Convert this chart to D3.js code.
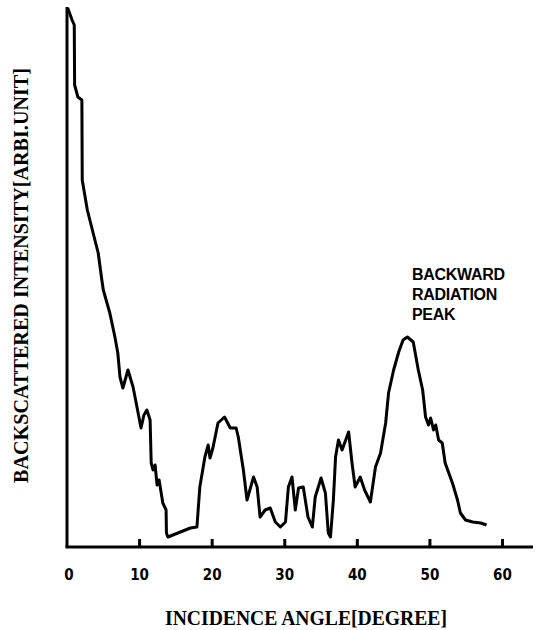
<!DOCTYPE html>
<html>
<head>
<meta charset="utf-8">
<script src="https://cdn.jsdelivr.net/npm/d3@7"></script>
<style>
  body { margin: 0; background: #fff; }
  svg { display: block; }
</style>
</head>
<body>
<div id="chart"></div>
<script>
// incidence angle (degree)
const angle = [
  0.1, 0.4, 0.7, 1.0, 1.05, 1.5, 2.05, 2.1, 2.8, 3.6, 4.3, 4.8, 5.0, 5.9, 6.6, 7.0,
  7.3, 7.7, 8.4, 9.1, 9.8, 10.2, 10.6, 11.0, 11.45, 11.6, 11.86, 12.14, 12.41, 12.69, 13.2, 13.65, 13.7, 13.9,
  17.0, 17.9, 18.3, 19.0, 19.45, 19.7, 20.1, 20.8, 21.7, 22.5, 23.3, 23.6, 24.3, 24.8,
  25.7, 26.2, 26.6, 27.3, 28.0, 28.7, 29.4, 30.1, 30.5, 31.0, 31.45, 31.9, 32.55, 33.2,
  33.8, 34.2, 35.0, 35.6, 36.0, 36.3, 36.7, 37.0, 37.4, 37.9, 38.8, 39.3, 39.7, 40.4,
  41.0, 41.8, 42.5, 43.2, 43.9, 44.3, 45.0, 45.7, 46.3, 46.9, 47.7, 48.4, 49.0, 49.4,
  49.8, 50.1, 50.5, 50.8, 51.2, 51.7, 52.1, 53.1, 53.8, 54.2, 54.9, 55.9, 57.0, 57.8
];
// backscattered intensity (arb. unit)
const intensity = [
  539, 533, 527, 522, 462, 450, 447, 367, 337, 314, 294, 267, 257, 234, 210, 194,
  170, 159, 177, 160, 134, 119, 132, 137, 127, 84, 77, 82, 62, 67, 44, 37, 14, 10,
  19, 20, 60, 90, 102, 89, 99, 124, 130, 119, 119, 110, 77, 47,
  70, 60, 30, 37, 39, 25, 20, 25, 60, 70, 37, 59, 60, 30,
  20, 50, 69, 54, 14, 10, 47, 90, 107, 97, 115, 82, 60, 70,
  57, 45, 80, 94, 124, 154, 177, 195, 207, 210, 205, 177, 157, 130,
  122, 129, 117, 122, 107, 104, 84, 64, 47, 34, 27, 25, 24, 22
];
const xTicks = [10, 20, 30, 40, 50, 60];
const xTickLabels = ["10", "20", "30", "40", "50", "60"];
const noteLines = ["BACKWARD", "RADIATION", "PEAK"];

const width = 537, height = 630;

const x = d3.scaleLinear().domain([0, 60]).range([67, 502.5]);
const y = d3.scaleLinear().domain([0, 540]).range([547, 7]);

const svg = d3.select("#chart").append("svg")
  .attr("width", width)
  .attr("height", height);

// axes
svg.append("line")
  .attr("x1", x(0)).attr("x2", x(0))
  .attr("y1", y(540)).attr("y2", y(0))
  .attr("stroke", "#000").attr("stroke-width", 3);

svg.append("line")
  .attr("x1", x(0) - 1.5).attr("x2", x(64.2))
  .attr("y1", y(0)).attr("y2", y(0))
  .attr("stroke", "#000").attr("stroke-width", 3);

svg.selectAll(".tick")
  .data(xTicks)
  .enter().append("line")
  .attr("class", "tick")
  .attr("x1", d => x(d)).attr("x2", d => x(d))
  .attr("y1", y(0)).attr("y2", y(0) - 8)
  .attr("stroke", "#000").attr("stroke-width", 3);

const tickFont = "'DejaVu Sans Condensed', 'DejaVu Sans', sans-serif";
svg.selectAll(".tlabel")
  .data([0].concat(xTicks))
  .enter().append("text")
  .attr("class", "tlabel")
  .attr("x", d => x(d) + (d === 0 ? 2 : 0))
  .attr("y", 580)
  .attr("text-anchor", "middle")
  .attr("font-family", tickFont)
  .attr("font-weight", "bold")
  .attr("font-size", 15)
  .text((d, i) => i === 0 ? "0" : xTickLabels[i - 1]);

// axis titles
svg.append("text")
  .attr("x", 165).attr("y", 625)
  .attr("font-family", "'Liberation Serif', 'DejaVu Serif', serif")
  .attr("font-weight", "bold")
  .attr("font-size", 21)
  .attr("textLength", 282)
  .attr("lengthAdjust", "spacingAndGlyphs")
  .text("INCIDENCE ANGLE[DEGREE]");

svg.append("text")
  .attr("transform", "translate(28,483) rotate(-90)")
  .attr("font-family", "'Liberation Serif', 'DejaVu Serif', serif")
  .attr("font-weight", "bold")
  .attr("font-size", 21)
  .attr("textLength", 415)
  .attr("lengthAdjust", "spacingAndGlyphs")
  .text("BACKSCATTERED INTENSITY[ARBI.UNIT]");

// the trace
const line = d3.line()
  .x(d => x(d[0]))
  .y(d => y(d[1]));

svg.append("path")
  .datum(angle.map((a, i) => [a, intensity[i]]))
  .attr("d", line)
  .attr("fill", "none")
  .attr("stroke", "#000")
  .attr("stroke-width", 3)
  .attr("stroke-linejoin", "round");

// annotation
svg.append("g")
  .selectAll("text")
  .data(noteLines)
  .enter().append("text")
  .attr("x", 412)
  .attr("y", (d, i) => 280 + i * 20)
  .attr("font-family", "'Liberation Sans', Arial, sans-serif")
  .attr("font-weight", "bold")
  .attr("font-size", 16)
  .attr("letter-spacing", -0.3)
  .text(d => d);
</script>
</body>
</html>
